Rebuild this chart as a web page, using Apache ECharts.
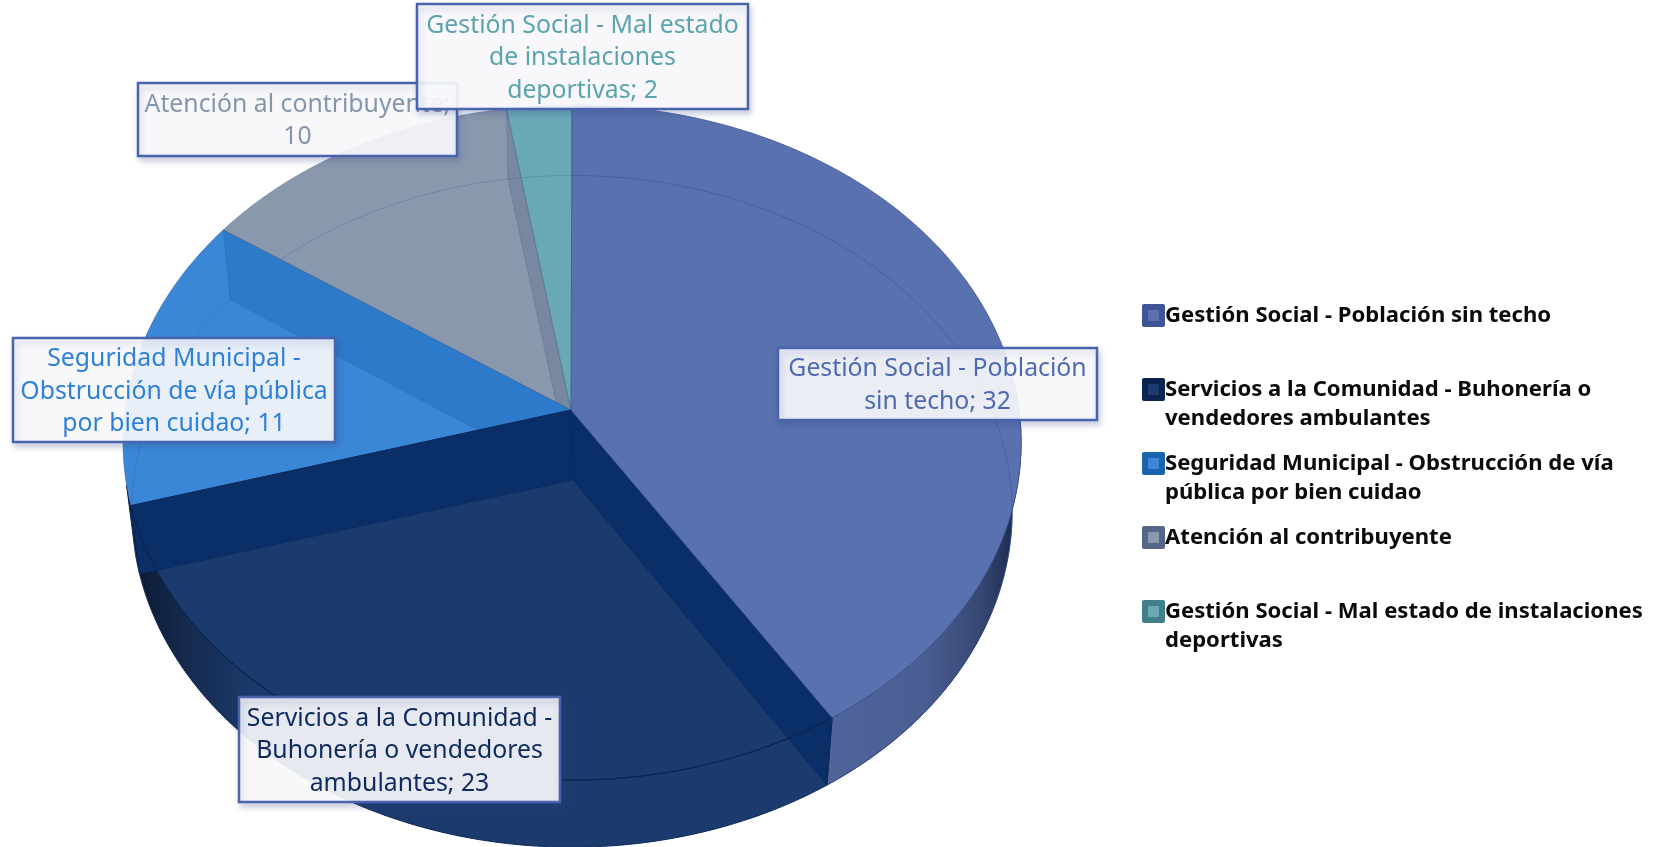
<!DOCTYPE html>
<html><head><meta charset="utf-8">
<style>html,body{margin:0;padding:0;background:#fff}#c{width:1654px;height:847px}</style>
<script src="https://cdn.jsdelivr.net/npm/echarts@6/dist/echarts.min.js"></script>
</head><body><div id="c"></div>
<script>
const categories = ['Gestión Social - Población sin techo','Servicios a la Comunidad - Buhonería o vendedores ambulantes','Seguridad Municipal - Obstrucción de vía pública por bien cuidao','Atención al contribuyente','Gestión Social - Mal estado de instalaciones deportivas'];
const values = [32,23,11,10,2];
const labelLines = [['Gestión Social - Población','sin techo;'],['Servicios a la Comunidad -','Buhonería o vendedores','ambulantes;'],['Seguridad Municipal -','Obstrucción de vía pública','por bien cuidao;'],['Atención al contribuyente;',''],['Gestión Social - Mal estado','de instalaciones','deportivas;']];
const legendLines = [['Gestión Social - Población sin techo'],['Servicios a la Comunidad - Buhonería o','vendedores ambulantes'],['Seguridad Municipal - Obstrucción de vía','pública por bien cuidao'],['Atención al contribuyente'],['Gestión Social - Mal estado de instalaciones','deportivas']];
const faceColors = ['#5971AF','#1B3B6E','#3A87D8','#8A98AE','#69A9B5'];
const bandColors = ['#0A2E68','#0A2E68','#2D7ACB','#7788A0','#69A9B5'];
const textColors = ['#4F6AB0','#0E2A5E','#2F80D8','#8496AE','#5BA3AE'];
const swatchOuter = ['#3E5597','#0A2351','#1C63AE','#566688','#407F89'];
const labelBoxes = [[778,348,319,72],[239,697,321,105],[13,338,322,104],[138,83,319,73],[417,4,331,105]];
const FONT = '"Noto Sans"';

const total = values.reduce((a,b)=>a+b,0);
const cum = [0]; values.forEach(v=>cum.push(cum[cum.length-1]+v));
const ang = v => v/total*Math.PI*2;
const P = {cx:572, y0:410, A:447, B:334.4, p:0.0963, ly0:479, lsx:0.98, lsy:0.995};
function rimTop(t){const u=Math.sin(t),v=-Math.cos(t),w=1-P.p*v;return [P.cx+P.A*u/w,P.y0+P.B*v/w];}
function rimLow(t){const u=Math.sin(t),v=-Math.cos(t),w=1-P.p*v;return [P.cx+P.lsx*P.A*u/w,P.ly0+P.lsy*P.B*v/w];}
function arc(f,a,b){const n=Math.max(2,Math.ceil(Math.abs(b-a)/0.01));const r=[];for(let i=0;i<=n;i++)r.push(f(a+(b-a)*i/n));return r;}
const apex=[P.cx-1,P.y0], lowApex=[P.cx+1,480];

const poly=(points,fill,stroke,lw)=>({type:'polygon',shape:{points},style:{fill,stroke:stroke||null,lineWidth:lw||0}});
const line=(points,stroke,lw)=>({type:'polyline',shape:{points},style:{fill:null,stroke,lineWidth:lw||1}});
const grad=(stops)=>({type:'linear',x:0,y:0,x2:1,y2:0,colorStops:stops.map(c=>({offset:c[0],color:c[1]}))});

function renderWall(params,api){
  const i=params.dataIndex; if(i>1) return {type:'group',children:[]};
  const a=ang(cum[i]), b=ang(cum[i+1]);
  const from = i===0 ? ang(cum[1])-1.05 : a;
  const to = i===0 ? b : b+0.06;
  const pts=arc(rimTop,from,to).concat(arc(rimLow,to,from));
  const fill = i===0
    ? grad([[0,'#4F6498'],[0.5,'#4A5E93'],[0.8,'#354670'],[0.97,'#1A2A50'],[1,'#0C1A38']])
    : grad([[0,'#0A1830'],[0.08,'#15294B'],[0.18,'#1B3A6C'],[1,'#1B3B6E']]);
  return poly(pts,fill,i===0?'#2A3E72':'#0F2A58',1);
}
function renderFace(params,api){
  const i=api.value(0), a=ang(cum[i]), b=ang(cum[i+1]);
  const c=[];
  c.push(poly([apex].concat(arc(rimTop,a,b)),faceColors[i],i===0?'#3D5490':i===1?'#0E2C5E':'rgba(40,60,110,.35)',0.8));
  const ba=q=>{const t=ang(cum[q]);return poly([apex,rimTop(t),rimLow(t),lowApex],bandColors[i],i===1?'#0B2A5C':'rgba(50,70,110,.3)',0.7);};
  if(i===1){c.push(ba(1));c.push(ba(2));c.push(line(arc(rimTop,a,b),'#0A2550',1.2));}
  if(i===2){c.push(ba(3));}
  if(i===3){c.push(ba(4));}
  if(i!==1){
    c.push(line(arc(rimLow,a,b),i===0?'rgba(50,75,140,.42)':'rgba(60,80,120,.25)',1));
  }
  return {type:'group',children:c};
}
function renderLabel(params,api){
  const i=api.value(0), [x,y,w,h]=labelBoxes[i], v=values[i];
  const lines=labelLines[i].slice();
  if(lines[lines.length-1]==='') {lines[lines.length-1]=String(v);}
  else lines[lines.length-1]+=' '+v;
  const lh=32.5;
  const y0=y+h/2-(lines.length-1)*lh/2+1.5;
  const kids=[{type:'rect',shape:{x,y,width:w,height:h},style:{fill:'rgba(252,252,254,.9)',stroke:'#4A63AE',lineWidth:2.5,shadowBlur:6,shadowColor:'rgba(50,70,130,.25)',shadowOffsetX:2,shadowOffsetY:4}}];
  lines.forEach((t,k)=>kids.push({type:'text',style:{text:t,x:x+w/2,y:y0+k*lh,fill:textColors[i],font:'24.8px '+FONT,textAlign:'center',textVerticalAlign:'middle'}}));
  return {type:'group',children:kids};
}
function renderLegend(params,api){
  const i=api.value(0), y=304+i*74, kids=[];
  kids.push({type:'rect',shape:{x:1142,y,width:23,height:23,r:2},style:{fill:swatchOuter[i]}});
  kids.push({type:'rect',shape:{x:1148,y:y+6,width:11,height:11},style:{fill:faceColors[i]}});
  legendLines[i].forEach((t,k)=>kids.push({type:'text',style:{text:t,x:1165,y:y+12+k*29,fill:'#0B0B0B',font:'bold 22.1px '+FONT,textAlign:'left',textVerticalAlign:'middle'}}));
  return {type:'group',children:kids};
}
const paintOrder=[3,4,2,1,0];
const chart=echarts.init(document.getElementById('c'),null,{renderer:'canvas'});
chart.setOption({
  animation:false,backgroundColor:'#fff',
  series:[
    {type:'custom',coordinateSystem:'none',silent:true,z:1,data:[[0],[1]],renderItem:renderWall},
    {type:'custom',coordinateSystem:'none',silent:true,z:2,data:paintOrder.map(i=>[i,values[i]]),renderItem:renderFace},
    {type:'custom',coordinateSystem:'none',silent:true,z:3,data:values.map((v,i)=>[i,v]),renderItem:renderLabel},
    {type:'custom',coordinateSystem:'none',silent:true,z:3,data:categories.map((n,i)=>[i]),renderItem:renderLegend}
  ]
});
</script></body></html>
